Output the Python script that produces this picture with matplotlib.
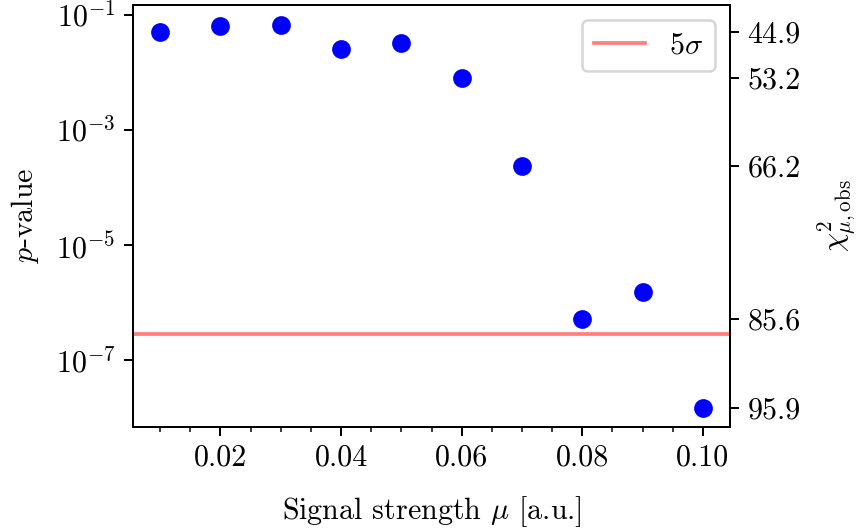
import matplotlib
matplotlib.use("Agg")
import matplotlib.pyplot as plt
from matplotlib.ticker import MultipleLocator, NullLocator, FixedLocator, FixedFormatter
import numpy as np

plt.rcParams['font.family'] = 'serif'
plt.rcParams['font.serif'] = ['cmr10', 'DejaVu Serif']
plt.rcParams['mathtext.fontset'] = 'cm'
plt.rcParams['axes.formatter.use_mathtext'] = True
plt.rcParams['font.size'] = 12

# data
mu = [0.01, 0.02, 0.03, 0.04, 0.05, 0.06, 0.07, 0.08, 0.09, 0.10]
p_values = [0.051, 0.064, 0.067, 0.0257, 0.0326, 0.0080, 2.37e-4, 5.2e-7, 1.55e-6, 1.5e-8]
five_sigma_p = 2.87e-7
chi2_mu = [0.01, 0.06, 0.07, 0.08, 0.10]
chi2_labels = ['44.9', '53.2', '66.2', '85.6', '95.9']
left_ticks = [1e-1, 1e-3, 1e-5, 1e-7]

fig = plt.figure(figsize=(861/180, 532/180), dpi=180)
ax = fig.add_axes([133/861, 1-427/532, (730-133)/861, (427-5)/532])

ax.plot(mu, p_values, 'o', color='blue', ms=6.5, zorder=3)
ax.axhline(five_sigma_p, color='red', alpha=0.5, lw=1.5, label=r'$5\sigma$')
ax.set_yscale('log')
ax.set_ylim(10**-8.16, 10**-0.83)
ax.set_xlim(0.0055, 0.1045)
ax.yaxis.set_major_locator(FixedLocator(left_ticks))
ax.yaxis.set_minor_locator(NullLocator())
ax.xaxis.set_major_locator(MultipleLocator(0.02))
ax.xaxis.set_minor_locator(MultipleLocator(0.005))
ax.xaxis.set_major_formatter(matplotlib.ticker.FormatStrFormatter('%.2f'))
ax.set_xlabel(r'Signal strength $\mu$ [a.u.]', labelpad=9)
ax.set_ylabel(r'$p$-value', labelpad=6)
ax.legend(loc='upper right', handlelength=1.7)

ax2 = ax.twinx()
ax2.set_yscale('log')
ax2.set_ylim(ax.get_ylim())
tick_pos = [p_values[mu.index(m)] for m in chi2_mu]
ax2.yaxis.set_major_locator(FixedLocator(tick_pos))
ax2.yaxis.set_major_formatter(FixedFormatter(chi2_labels))
ax2.yaxis.set_minor_locator(NullLocator())
ax2.set_ylabel(r'$\chi^2_{\mu,\mathrm{obs}}$', labelpad=6)

fig.savefig('out.png', dpi=180)
